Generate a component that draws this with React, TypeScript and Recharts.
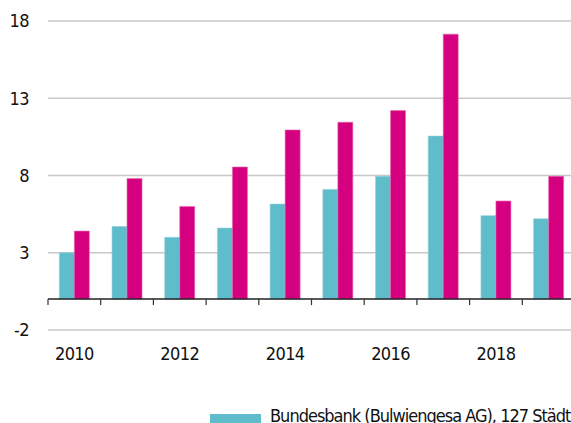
import { Bar, BarChart, CartesianGrid, ReferenceLine, XAxis, YAxis } from 'recharts'

const years = ['2010', '2011', '2012', '2013', '2014', '2015', '2016', '2017', '2018', '2019']
const bundesbank = [3.0, 4.7, 4.0, 4.6, 6.15, 7.1, 7.95, 10.55, 5.4, 5.2]
const secondSeries = [4.4, 7.8, 6.0, 8.55, 10.95, 11.45, 12.2, 17.15, 6.35, 7.95]
const yTicks = [-2, 3, 8, 13, 18]

const CYAN = '#5fbccb'
const MAGENTA = '#d5007f'
const FONT = '"DejaVu Sans Condensed", "Liberation Sans Narrow", Arial, sans-serif'

const data = years.map((year, i) => ({
  year,
  bundesbank: bundesbank[i],
  other: secondSeries[i],
}))

// zero line with the small category ticks hanging below it
function ZeroAxis(props: any) {
  const { x1, x2, y1 } = props
  const step = (x2 - x1) / years.length
  const ticks = []
  for (let i = 0; i <= years.length; i++) {
    const x = x1 + step * i
    ticks.push(<line key={i} x1={x} x2={x} y1={y1} y2={y1 + 6} stroke="#333" strokeWidth={1.2} />)
  }
  return (
    <g>
      <line x1={x1} x2={x2} y1={y1} y2={y1} stroke="#222" strokeWidth={1.5} />
      {ticks}
    </g>
  )
}

const tickStyle = { fill: '#111', fontSize: 18, fontFamily: FONT, letterSpacing: -0.6 }

export default function App() {
  return (
    <div style={{ position: 'absolute', left: 0, top: 0, width: 571, height: 423, overflow: 'hidden', background: '#fff' }}>
      <BarChart
        width={575}
        height={423}
        data={data}
        margin={{ top: 21, right: 0, bottom: 0, left: 0 }}
        barCategoryGap="21.5%"
        barGap={0}
      >
        <CartesianGrid vertical={false} stroke="#c8c8c8" strokeWidth={1.5} />
        <XAxis
          dataKey="year"
          interval={1}
          axisLine={false}
          tickLine={false}
          tickSize={0}
          tickMargin={17}
          height={93}
          tick={tickStyle}
        />
        <YAxis
          domain={[-2, 18]}
          ticks={yTicks}
          interval={0}
          axisLine={false}
          tickLine={false}
          tickSize={0}
          tickMargin={19}
          width={48}
          tick={tickStyle}
        />
        <Bar dataKey="bundesbank" fill={CYAN} stroke="#8fd0da" strokeWidth={0.6} isAnimationActive={false} />
        <Bar dataKey="other" fill={MAGENTA} stroke="#e86aae" strokeWidth={0.6} isAnimationActive={false} />
        <ReferenceLine y={0} shape={ZeroAxis} />
      </BarChart>
      <div
        style={{
          position: 'absolute',
          left: 210,
          top: 404,
          display: 'flex',
          alignItems: 'center',
          fontFamily: FONT,
          fontSize: 18,
          letterSpacing: -1,
          color: '#111',
          whiteSpace: 'nowrap',
        }}
      >
        <span style={{ display: 'inline-block', width: 51, height: 12, background: CYAN, marginRight: 9, marginTop: 10 }} />
        <span>Bundesbank (Bulwiengesa AG), 127 Städte</span>
      </div>
    </div>
  )
}
